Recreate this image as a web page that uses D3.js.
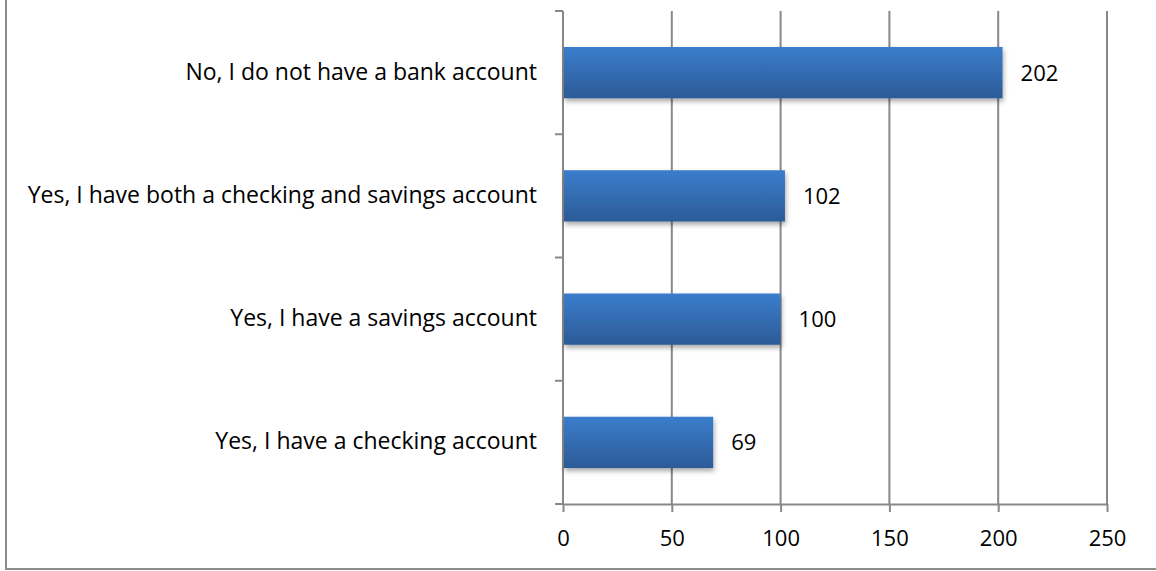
<!DOCTYPE html>
<html><head><meta charset="utf-8">
<script src="https://cdn.jsdelivr.net/npm/d3@7"></script>
<style>body{margin:0;background:#fff}svg{display:block}text{font-family:"Open Sans",sans-serif;fill:#000}</style>
</head><body><svg id="c" width="1156" height="571"></svg>
<script>
const categories = ["No, I do not have a bank account","Yes, I have both a checking and savings account","Yes, I have a savings account","Yes, I have a checking account"];
const values = [202,102,100,69];
const xTicks = [0,50,100,150,200,250];

const svg = d3.select("#c");
const defs = svg.append("defs");
const g1 = defs.append("linearGradient").attr("id","bg").attr("x1",0).attr("x2",0).attr("y1",0).attr("y2",1);
g1.append("stop").attr("offset","0%").attr("stop-color","#3b7dcc");
g1.append("stop").attr("offset","100%").attr("stop-color","#2c5b97");
const f = defs.append("filter").attr("id","sh").attr("x","-5%").attr("y","-20%").attr("width","115%").attr("height","160%");
f.append("feDropShadow").attr("dx",1).attr("dy",3).attr("stdDeviation",2.5).attr("flood-color","#000").attr("flood-opacity",0.35);

// frame
svg.append("rect").attr("x",6).attr("y",-10).attr("width",1170).attr("height",579).attr("fill","none").attr("stroke","#8c8c8c").attr("stroke-width",2);

const x = d3.scaleLinear().domain([0,250]).range([563,1107]);
const y = d3.scaleBand().domain(categories).range([11,504]).paddingInner(0.584).paddingOuter(0.292);
const grid = "#888888";

// gridlines
svg.append("g").selectAll("line").data(xTicks.slice(1)).join("line")
  .attr("x1",d=>x(d)).attr("x2",d=>x(d)).attr("y1",11).attr("y2",504)
  .attr("stroke",grid).attr("stroke-width",2);

// x axis
const xa = svg.append("g").attr("transform","translate(0,504)")
  .call(d3.axisBottom(x).tickValues(xTicks).tickSize(8).tickSizeOuter(0));
xa.select(".domain").attr("stroke",grid).attr("stroke-width",2);
xa.selectAll(".tick line").attr("stroke",grid).attr("stroke-width",2);
xa.selectAll(".tick text").attr("font-size",22).attr("font-family","'Open Sans',sans-serif").attr("fill","#000").attr("y",42).attr("dy",0);

// y axis: ticks at band boundaries
const bounds = [11].concat(categories.map(c=>y(c)-y.step()*y.paddingInner()/2+y.step()));
const ya = svg.append("g");
ya.append("line").attr("x1",563).attr("x2",563).attr("y1",11).attr("y2",504).attr("stroke",grid).attr("stroke-width",2);
ya.selectAll(".t").data(bounds).join("line").attr("class","t")
  .attr("x1",555).attr("x2",563).attr("y1",d=>d).attr("y2",d=>d).attr("stroke",grid).attr("stroke-width",2);

// bars
svg.append("g").selectAll("rect").data(categories).join("rect")
  .attr("x",x(0)+1).attr("y",d=>y(d)).attr("width",(d,i)=>x(values[i])-x(0)-1).attr("height",y.bandwidth())
  .attr("fill","url(#bg)").attr("filter","url(#sh)");

// value labels
svg.append("g").selectAll("text").data(categories).join("text")
  .attr("x",(d,i)=>x(values[i])+18).attr("y",d=>y(d)+y.bandwidth()/2+8)
  .attr("font-size",22).text((d,i)=>values[i]);

// category labels
svg.append("g").selectAll("text").data(categories).join("text")
  .attr("x",537).attr("y",d=>y(d)+y.bandwidth()/2+7).attr("text-anchor","end")
  .attr("font-size",23).text(d=>d);
</script></body></html>
